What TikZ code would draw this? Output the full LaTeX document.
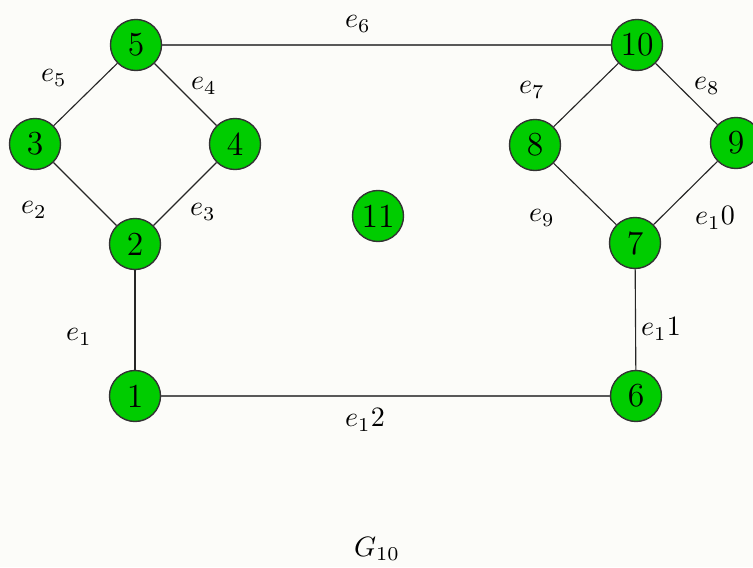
\documentclass[tikz,border=0pt]{standalone}
\definecolor{nodegreen}{RGB}{0,204,0}
\definecolor{papercream}{RGB}{252,252,249}
\begin{document}
\begin{tikzpicture}[x=0.01255cm,y=-0.01255cm,
  vertex/.style={circle,draw=black!80,fill=nodegreen,line width=0.5pt,
    minimum size=0.64cm,inner sep=0pt,font=\large},
  edge/.style={draw=black!85,line width=0.4pt},
  longedge/.style={draw=black!65,line width=0.7pt}]
\fill[papercream] (0,0) rectangle (753,567);
\useasboundingbox (0,0) rectangle (753,567);

% left square
\node[vertex] (v5) at (136,45) {5};
\node[vertex] (v3) at (35,144) {3};
\node[vertex] (v4) at (235,144) {4};
\node[vertex] (v2) at (135,244) {2};
\node[vertex] (v1) at (135,396) {1};
% right square
\node[vertex] (v10) at (637,45) {10};
\node[vertex] (v8) at (535,145) {8};
\node[vertex] (v9) at (736,143) {9};
\node[vertex] (v7) at (635,243) {7};
\node[vertex] (v6) at (636,396) {6};
% isolated
\node[vertex] (v11) at (378,216) {11};

\draw[edge] (v5) -- (v3);
\draw[edge] (v5) -- (v4);
\draw[edge] (v3) -- (v2);
\draw[edge] (v4) -- (v2);
\draw[edge] (v2) -- (v1);
\draw[edge] (v10) -- (v8);
\draw[edge] (v10) -- (v9);
\draw[edge] (v8) -- (v7);
\draw[edge] (v9) -- (v7);
\draw[edge] (v7) -- (v6);
\draw[longedge] (v5) -- (v10);
\draw[longedge] (v1) -- (v6);

% edge labels
\node (le1) at (79,337) {$e_1$};
\node (le2) at (34,210) {$e_2$};
\node (le3) at (203,212) {$e_3$};
\node (le4) at (204,86) {$e_4$};
\node (le5) at (54,78) {$e_5$};
\node (le6) at (358,24) {$e_6$};
\node (le7) at (532,90) {$e_7$};
\node (le8) at (707,86) {$e_8$};
\node (le9) at (542,218) {$e_9$};
\node (le10) at (715,218) {$e_1 0$};
\node (le11) at (661,329) {$e_1 1$};
\node (le12) at (365,420) {$e_1 2$};

\node (title) at (377,549) {$G_{10}$};
\end{tikzpicture}
\end{document}
